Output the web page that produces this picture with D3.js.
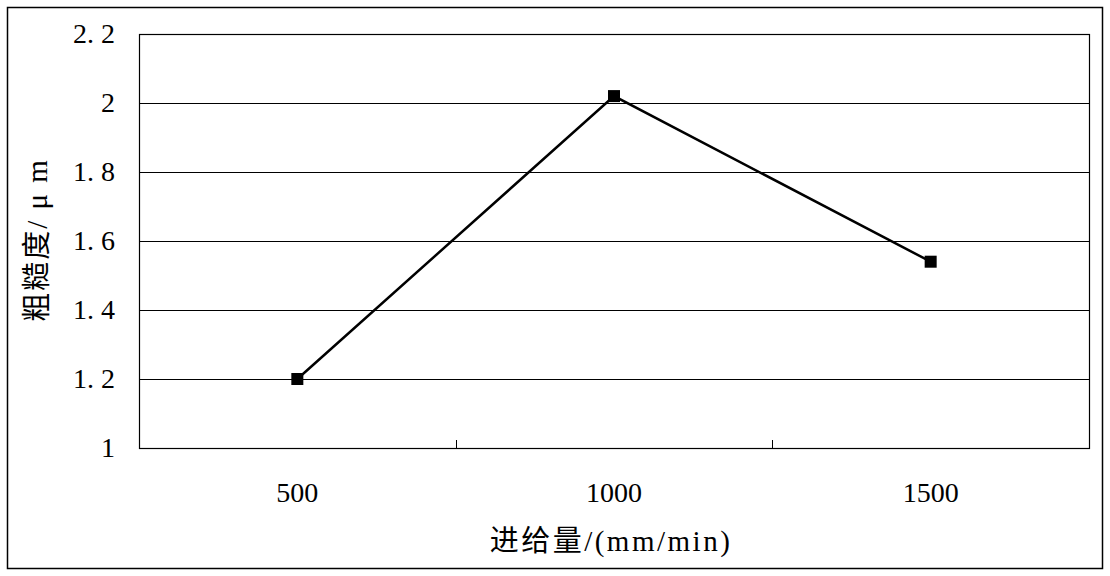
<!DOCTYPE html>
<html>
<head>
<meta charset="utf-8">
<script src="https://cdn.jsdelivr.net/npm/d3@7"></script>
<style>
  body { margin: 0; background: #fff; }
  text { font-family: "Liberation Serif", "Noto Sans CJK SC", serif; fill: #000; }
</style>
</head>
<body>
<script>
var feeds = ['500', '1000', '1500'];
var roughness = [1.2, 2.02, 1.54];
var yTicks = [1, 1.2, 1.4, 1.6, 1.8, 2, 2.2];

var width = 1110, height = 576;
var margin = {left: 139, right: 21, top: 34, bottom: 128};
var w = width - margin.left - margin.right;
var h = height - margin.top - margin.bottom;

var svg = d3.select("body").append("svg").attr("width", width).attr("height", height);

// outer frame
svg.append("rect").attr("x", 7.5).attr("y", 7.5).attr("width", 1095).attr("height", 561)
   .attr("fill", "none").attr("stroke", "#000").attr("stroke-width", 1.5);

var x = d3.scaleBand().domain(feeds).range([0, w]);
var y = d3.scaleLinear().domain([1, 2.2]).range([h, 0]);

var g = svg.append("g").attr("transform", "translate(" + margin.left + "," + margin.top + ")");

// grid lines
g.selectAll(".grid").data(yTicks).enter().append("line")
  .attr("x1", 0).attr("x2", w)
  .attr("y1", function(d) { return Math.round(y(d)) + 0.5; })
  .attr("y2", function(d) { return Math.round(y(d)) + 0.5; })
  .attr("stroke", "#000").attr("stroke-width", 1);

// plot frame
g.append("rect").attr("x", 0.5).attr("y", 0.5).attr("width", w).attr("height", h)
  .attr("fill", "none").attr("stroke", "#000").attr("stroke-width", 1.2);

// y axis labels
var yAxis = d3.axisLeft(y).tickValues(yTicks).tickSize(0).tickPadding(24);
g.append("g").call(yAxis)
  .call(function(a) { a.select(".domain").remove(); })
  .selectAll("text").style("font-size", "28px")
  .text(function(d) { return d3.format("")(d).replace(".", ". "); });

// x axis: ticks between categories, pointing inward
var xAxis = d3.axisBottom(x).tickSize(0).tickPadding(34);
g.append("g").attr("transform", "translate(0," + h + ")").call(xAxis)
  .call(function(a) { a.select(".domain").remove(); })
  .selectAll("text").style("font-size", "28px");

g.selectAll(".xtick").data(feeds.slice(1)).enter().append("line")
  .attr("x1", function(d) { return Math.round(x(d)) + 0.5; })
  .attr("x2", function(d) { return Math.round(x(d)) + 0.5; })
  .attr("y1", h).attr("y2", h - 8)
  .attr("stroke", "#000");

// line + markers
var line = d3.line()
  .x(function(d, i) { return x(feeds[i]) + x.bandwidth() / 2; })
  .y(function(d) { return y(d); });

g.append("path").attr("d", line(roughness))
  .attr("fill", "none").attr("stroke", "#000").attr("stroke-width", 2.5);

g.selectAll(".pt").data(roughness).enter().append("rect")
  .attr("x", function(d, i) { return x(feeds[i]) + x.bandwidth() / 2 - 6; })
  .attr("y", function(d) { return y(d) - 6; })
  .attr("width", 12).attr("height", 12).attr("fill", "#000");

// axis titles
svg.append("text").attr("x", 611).attr("y", 551).attr("text-anchor", "middle")
  .style("font-size", "29px").style("letter-spacing", "2.5px").text("进给量/(mm/min)");

svg.append("text").attr("transform", "translate(47,240) rotate(-90)").attr("text-anchor", "middle")
  .style("font-size", "29px").style("letter-spacing", "2px").text("粗糙度/ μ m");
</script>
</body>
</html>
